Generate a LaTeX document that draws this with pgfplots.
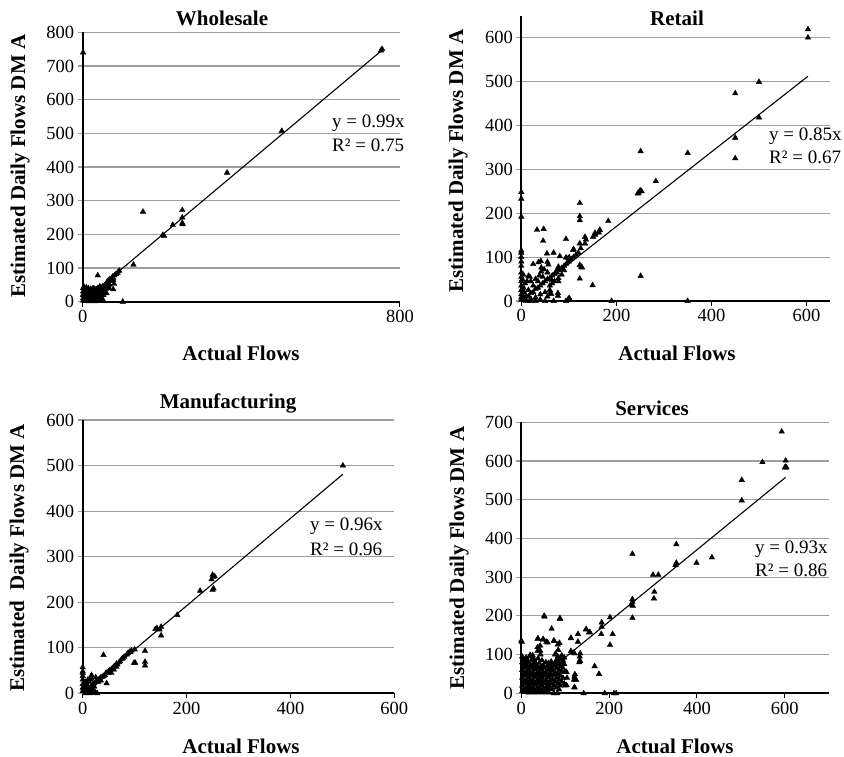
\documentclass[border=0pt]{standalone}
\usepackage{fontspec}
\setmainfont{Liberation Serif}
\usepackage{pgfplots}
\pgfplotsset{compat=1.18}
\newcommand\lab{\fontsize{21bp}{21bp}\selectfont\bfseries}
\newcommand\eq{\fontsize{19bp}{19bp}\selectfont}
\pgfplotsset{
  panel/.style={
    scale only axis,
    axis x line=bottom, axis y line=left,
    axis line style={-, line width=2.2bp, black},
    xmin=0, ymin=0,
    ymajorgrids, grid style={line width=1.1bp, color=black!38},
    tick align=outside,
    major tick length=5bp,
    xtick style={line width=1bp, black},
    ytick style={line width=1.1bp, black!38},
    /pgf/number format/assume math mode=true,
    tick label style={font=\fontsize{18.5bp}{18.5bp}\selectfont},
    clip=false,
  },
  pts/.style={only marks, mark=triangle*, mark size=3.2bp, black},
  fit/.style={black, line width=1.1bp, no marks},
}
\begin{document}
\begin{tikzpicture}
\useasboundingbox (0,0) rectangle (844bp,-757bp);
% ---------------- Wholesale
\begin{axis}[panel, at={(82.7bp,-301.7bp)}, anchor=south west,
  width=317.3bp, height=269.4bp, xmax=800, ymax=800,
  xtick={0,800}, ytick={0,100,...,800}]
\addplot[pts] coordinates {
(1,740) (755,750) (752,746) (502,507) (364,383) (152,267) (202,198) (205,196)
(227,228) (251,272) (251,250) (251,234) (252,230) (128,110) (101,0) (38,78)
(92,92) (88,86) (84,82) (80,78) (77,70) (75,74) (72,68) (70,62) (77,64) (79,53)
(77,37) (52,20) (60,25) (65,45) (62,55) (58,50) (55,48) (50,45) (48,40) (45,42)
(42,38) (40,35) (38,40) (35,37) (32,35) (30,38) (28,30) (25,35) (22,32) (20,38)
(18,28) (15,33) (12,30) (10,38) (8,25) (5,32) (3,45) (1,40) (1,30) (1,20) (1,10)
(1,3) (3,5) (5,15) (8,8) (10,18) (12,5) (15,12) (18,20) (20,8) (22,15) (25,22)
(28,10) (30,18) (33,25) (35,5) (38,15) (40,25) (42,12) (45,30) (48,20) (50,8)
(52,30) (55,32) (58,38) (35,30) (25,2) (15,1) (8,2) (45,2) (30,1) (2,22) (4,12)
(6,35) (9,42) (14,40) (17,8) (21,25) (26,40) (33,12) (37,22) (43,45) (47,10)
(53,40) (62,60) (67,66) (24,18) (66,40) (68,50) (56,30) (44,26)
};
\addplot[fit] coordinates {(0,0) (755,747)};
\end{axis}
% ---------------- Retail
\begin{axis}[panel, at={(521.3bp,-301bp)}, anchor=south west,
  width=309bp, height=285.3bp, xmax=650, ymax=650,
  xtick={0,200,400,600}, ytick={0,100,...,600}]
\addplot[pts] coordinates {
(603,619) (603,600) (500,499) (500,418) (450,473) (450,372) (450,325) (350,337)
(350,0) (283,273) (251,341) (250,252) (247,247) (253,250) (245,245) (251,57)
(190,0) (183,182) (165,161) (163,156) (155,151) (151,146) (150,36) (134,146)
(134,131) (136,140) (123,223) (123,193) (123,184) (123,131) (126,78) (123,82)
(128,76) (123,51) (125,120) (120,110) (110,118) (101,99) (94,99) (94,141)
(81,102) (78,78) (101,6) (103,2) (94,0) (77,18) (77,12) (68,0) (54,108) (68,110)
(46,137) (47,164) (33,162) (36,88) (25,84) (15,57) (18,55) (61,18) (60,25)
(42,76) (42,67) (57,83) (78,45) (78,52) (41,91) (55,89) (99,98) (109,116)
(155,155) (165,162) (64,48) (63,16) (99,5) (75,70)
(0,248) (0,233) (0,192) (0,115) (0,110) (0,100) (0,90) (0,80) (0,65) (0,55)
(0,45) (0,35) (0,25) (0,15) (0,8) (0,2)
(5,5) (10,12) (15,10) (20,18) (25,20) (30,28) (35,30) (40,35) (45,40) (50,45)
(55,50) (60,52) (65,58) (70,62) (75,65) (80,70) (85,75) (90,80) (95,85) (100,90)
(10,2) (20,5) (30,8) (40,15) (50,20) (25,35) (35,45) (45,55) (15,25) (5,30)
(8,40) (12,45) (20,45) (30,50) (3,12) (6,20) (2,50) (4,60) (40,3) (50,0) (30,0)
(20,0) (10,0) (55,10) (60,35) (65,40) (70,45) (85,60) (90,70) (105,95) (110,100)
(115,105) (55,65) (48,72) (38,58)
};
\addplot[fit] coordinates {(0,0) (603,512)};
\end{axis}
% ---------------- Manufacturing
\begin{axis}[panel, at={(82.7bp,-693.3bp)}, anchor=south west,
  width=311.6bp, height=273.3bp, xmax=600, ymax=600,
  xtick={0,200,400,600}, ytick={0,100,...,600}]
\addplot[pts] coordinates {
(501,500) (250,260) (251,256) (254,257) (248,250) (250,227) (252,230) (226,225)
(182,172) (151,146) (151,127) (143,143) (140,141) (148,140) (120,93) (120,69)
(120,61) (99,67) (100,96) (94,94) (90,91) (87,88) (40,84) (46,22) (80,80)
(77,77) (75,75) (72,70) (70,68) (67,63) (65,65) (62,60) (60,58) (57,55) (55,52)
(52,50) (50,48) (48,45) (45,45) (43,40) (40,38) (38,36) (35,35) (33,32) (30,30)
(28,27) (25,25) (22,22) (20,20) (18,18) (17,40) (15,30) (12,25) (10,15) (8,10)
(5,8) (3,5) (0,57) (0,48) (0,45) (0,38) (0,30) (0,20) (0,12) (0,5) (5,0) (10,2)
(15,0) (20,3) (25,1) (28,0) (12,8) (15,12) (8,20) (5,25) (3,15) (20,10) (18,5)
(22,15) (10,30) (25,35) (30,25) (35,28) (55,45) (60,52) (65,58) (85,85) (92,90)
(16,33) (101,67)
};
\addplot[fit] coordinates {(0,0) (501,481)};
\end{axis}
% ---------------- Services
\begin{axis}[panel, at={(521.3bp,-693.3bp)}, anchor=south west,
  width=307.4bp, height=271bp, xmax=700, ymax=700,
  xtick={0,200,400,600}, ytick={0,100,...,700}]
\addplot[pts] coordinates {
(593,676) (549,597) (602,601) (602,585) (600,583) (604,583) (502,551) (502,498)
(434,351) (399,337) (353,385) (353,337) (351,331) (312,306) (300,306) (303,262)
(302,245) (253,360) (253,243) (253,236) (254,226) (250,229) (253,195) (202,196)
(202,125) (208,153) (183,183) (183,172) (182,153) (154,157) (147,165) (167,70)
(177,50) (190,0) (216,0) (142,0) (129,153) (129,133) (113,143) (133,95) (133,85)
(132,80) (118,105) (122,49) (122,40) (120,35) (121,15) (103,55) (100,20)
(88,194) (69,167) (53,198) (74,136) (83,126) (57,133) (38,142) (50,140) (43,123)
(43,110) (0,136) (52,200) (88,192) (37,140) (49,138) (60,131) (75,135) (87,130)
(37,119) (37,109) (1,133) (113,142) (148,165) (156,158) (113,109) (121,103)
(134,103) (134,83) (84,112) (78,102) (20,99) (99,56) (121,43) (125,34) (104,40)
(103,21) (121,16) (82,0) (60,16) (211,0)
(2,5) (2,20) (2,40) (2,60) (2,80) (2,95)
(5,10) (5,30) (5,50) (5,70) (5,88)
(8,3) (8,25) (8,45) (8,65) (8,78)
(11,15) (11,35) (11,55) (11,75) (11,92)
(14,8) (14,28) (14,48) (14,68) (14,85)
(17,2) (17,20) (17,40) (17,60) (17,80)
(20,12) (20,32) (20,52) (20,72) (20,95)
(23,5) (23,25) (23,45) (23,65) (23,85)
(26,15) (26,35) (26,55) (26,75) (26,98)
(29,8) (29,28) (29,48) (29,68) (29,88)
(32,2) (32,22) (32,42) (32,62) (32,80)
(35,12) (35,32) (35,52) (35,72)
(38,5) (38,25) (38,45) (38,65) (38,90)
(41,15) (41,35) (41,55) (41,78)
(44,8) (44,28) (44,48) (44,68) (44,100)
(47,2) (47,20) (47,40) (47,60) (47,85)
(50,12) (50,32) (50,52) (50,72)
(53,5) (53,25) (53,45) (53,65)
(56,15) (56,35) (56,55) (56,80)
(59,8) (59,28) (59,48) (59,70)
(62,2) (62,22) (62,42) (62,62) (62,78)
(65,12) (65,32) (65,52) (65,75)
(68,25) (68,45) (68,68) (68,82)
(71,10) (71,35) (71,58) (71,76)
(74,0) (74,20) (74,48) (74,72)
(77,30) (77,55) (77,80) (77,100)
(80,15) (80,40) (80,65) (80,85)
(83,25) (83,50) (83,75) (83,95)
(86,10) (86,35) (86,60) (86,80)
(89,20) (89,45) (89,70) (89,90)
(92,30) (92,55) (92,78) (92,98)
(95,40) (95,65) (95,85)
(98,25) (98,75) (98,92)
};
\addplot[fit] coordinates {(0,0) (602,558)};
\end{axis}
% ---------------- texts
\node[font=\lab] at (222bp,-18bp) {Wholesale};
\node[font=\lab] at (677bp,-18bp) {Retail};
\node[font=\lab] at (228bp,-403bp) {Manufacturing};
\node[font=\lab] at (652bp,-408bp) {Services};
\node[font=\lab,rotate=90] at (20bp,-166bp) {Estimated Daily Flows DM A};
\node[font=\lab,rotate=90] at (458bp,-161bp) {Estimated Daily Flows DM A};
\node[font=\lab,rotate=90] at (19bp,-558bp) {Estimated\ \ Daily Flows DM A};
\node[font=\lab,rotate=90] at (459bp,-558bp) {Estimated Daily Flows DM A};
\node[font=\lab] at (241bp,-353bp) {Actual Flows};
\node[font=\lab] at (677bp,-353bp) {Actual Flows};
\node[font=\lab] at (241bp,-746bp) {Actual Flows};
\node[font=\lab] at (675bp,-746bp) {Actual Flows};
\node[font=\eq,anchor=west,inner sep=0] at (332bp,-123bp) {y = 0.99x};
\node[font=\eq,anchor=west,inner sep=0] at (332bp,-145bp) {R² = 0.75};
\node[font=\eq,anchor=west,inner sep=0] at (769bp,-136bp) {y = 0.85x};
\node[font=\eq,anchor=west,inner sep=0] at (769bp,-157bp) {R² = 0.67};
\node[font=\eq,anchor=west,inner sep=0] at (310bp,-526bp) {y = 0.96x};
\node[font=\eq,anchor=west,inner sep=0] at (310bp,-549bp) {R² = 0.96};
\node[font=\eq,anchor=west,inner sep=0] at (755bp,-549bp) {y = 0.93x};
\node[font=\eq,anchor=west,inner sep=0] at (755bp,-570bp) {R² = 0.86};
\end{tikzpicture}
\end{document}
